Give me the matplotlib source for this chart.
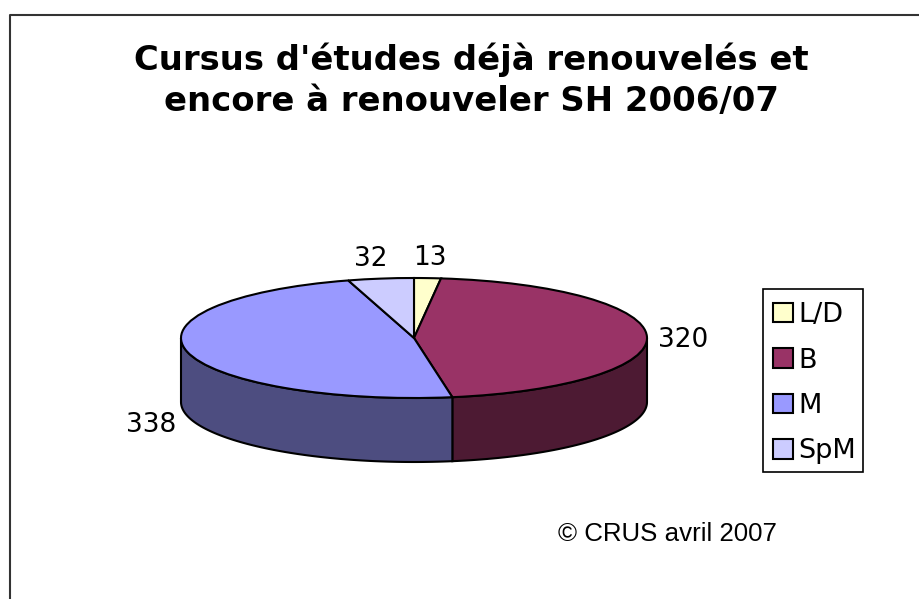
import matplotlib
matplotlib.use("Agg")
import matplotlib.pyplot as plt
from matplotlib.patches import Rectangle
import numpy as np

W, H = 919, 599

title = "Cursus d'études déjà renouvelés et\nencore à renouveler SH 2006/07"
credit = "© CRUS avril 2007"
categories = ["L/D", "B", "M", "SpM"]
values = [13, 320, 338, 32]
top_colors = ["#FFFFCC", "#993366", "#9999FF", "#CCCCFF"]
side_colors = {"B": "#4D1A33", "M": "#4D4D80"}

fig = plt.figure(figsize=(W / 100, H / 100), dpi=100)

# overlay in pixel coordinates for the frame and the texts
bg = fig.add_axes([0, 0, 1, 1])
bg.set_xlim(0, W)
bg.set_ylim(H, 0)
bg.axis("off")
bg.plot([10, 10, W], [H, 15, 15], color="#333333", lw=1.5, clip_on=False)
bg.text(471, 80, title, ha="center", va="center", fontsize=24.4, fontweight="bold",
        family="DejaVu Sans", color="black", linespacing=1.32)
bg.text(667, 534, credit, ha="center", va="center", fontsize=18.6,
        family="Liberation Sans", color="black")
label_pos = [(430, 258), (683, 340), (151, 425), (371, 259)]
for v, (x, y) in zip(values, label_pos):
    bg.text(x, y, str(v), ha="center", va="center", fontsize=19, family="DejaVu Sans")

# pie: one data unit is the ellipse radius in each direction
cx, cy, rx, ry, depth = 414, 338, 233, 60, 64
ax = fig.add_axes([(cx - rx) / W, 1 - (cy + ry) / H, 2 * rx / W, 2 * ry / H])
ax.patch.set_alpha(0)
wedges, _ = ax.pie(values, colors=top_colors, startangle=90, counterclock=False,
                   radius=1, wedgeprops=dict(edgecolor="black", linewidth=1.5, zorder=3))
ax.set_aspect("auto")
ax.set_xlim(-1, 1)
ax.set_ylim(-1, 1)

# side walls, only the front half of the ellipse is visible
total = sum(values)
split = (values[0] + values[1]) / total * 360
for name, a0, a1 in [("B", 90, split), ("M", split, 270)]:
    t = np.radians(np.linspace(a0, a1, 80))
    x = np.sin(t)
    y = np.cos(t)
    d = depth / ry
    ax.fill(np.r_[x, x[::-1]], np.r_[y, y[::-1] - d], facecolor=side_colors[name],
            edgecolor="black", linewidth=1.5, zorder=2, clip_on=False)
for w in wedges:
    w.set_clip_on(False)

# legend
bg.add_patch(Rectangle((763, 289), 100, 183, facecolor="white", edgecolor="black", lw=1.2))
bg.legend(wedges, categories, loc="upper left",
          bbox_to_anchor=(773 / W, 1 - 302 / H), bbox_transform=fig.transFigure,
          frameon=False, prop=dict(family="DejaVu Sans", size=19.5),
          handlelength=0.74, handleheight=0.74, handletextpad=0.2,
          labelspacing=0.72, borderaxespad=0, borderpad=0)

fig.savefig("out.png", dpi=100)
